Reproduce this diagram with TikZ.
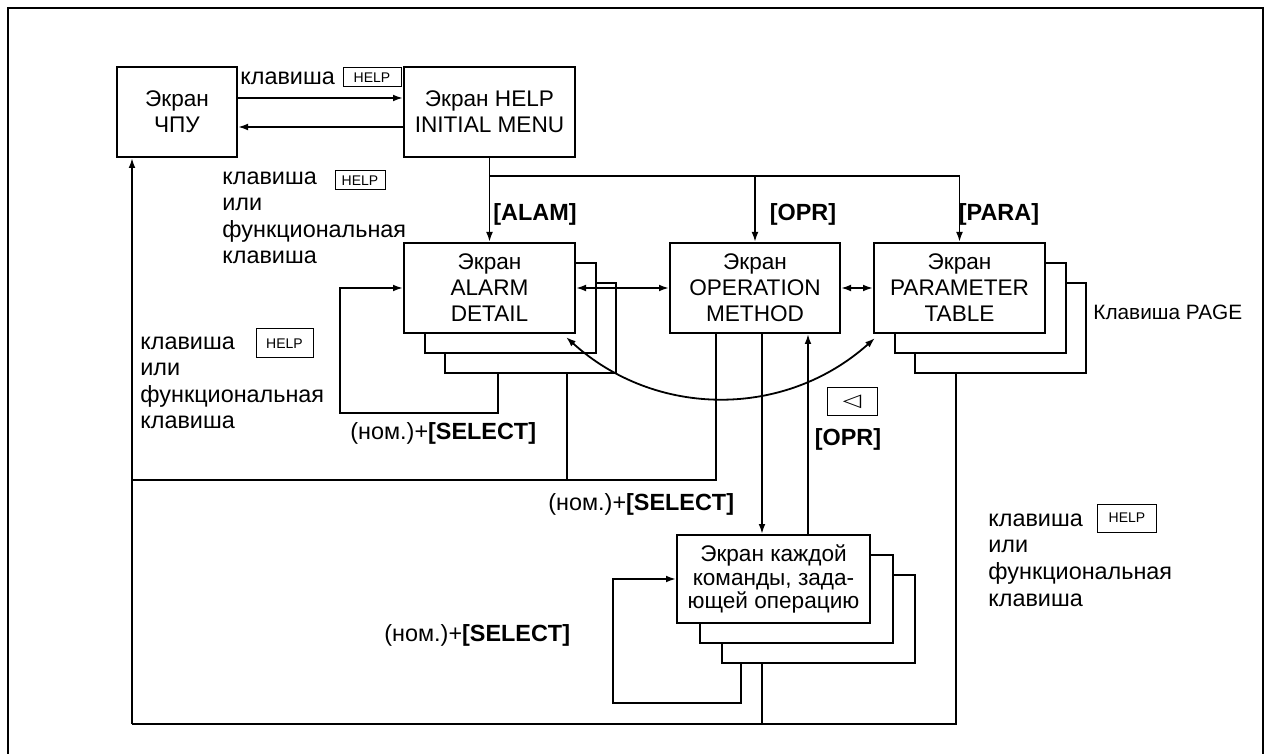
\documentclass[tikz,border=0pt]{standalone}
\usepackage{fontspec}
\setmainfont{Liberation Sans}
\newfontfamily\symfont{DejaVu Sans}
\usetikzlibrary{arrows.meta, positioning, calc}

\begin{document}
\begin{tikzpicture}[
  x=0.5pt, y=-0.5pt,
  scr/.style={draw, line width=1pt, fill=white, align=center, inner sep=0pt,
    minimum width=#1, minimum height=45pt, font=\fontsize{11.3}{13}\selectfont},
  scr/.default=85.5pt,
  hkey/.style={draw, line width=0.5pt, inner sep=0pt, minimum width=#1,
    font=\fontsize{7}{8}\selectfont},
  hkey/.default=29pt,
  lbl/.style={inner sep=0pt, align=left, font=\fontsize{11.7}{13.3}\selectfont},
  bld/.style={inner sep=0pt, font=\fontsize{11.7}{13}\selectfont\bfseries},
  wire/.style={line width=0.9pt},
  arr/.style={wire, -{Latex[length=5pt, width=3.4pt]}},
  arrs/.style={wire, {Latex[length=5pt, width=3.4pt]}-{Latex[length=5pt, width=3.4pt]}}
]
  \useasboundingbox (0,0) rectangle (1265,754);
  \draw[line width=1pt] (8,754) -- (8,8) -- (1263,8) -- (1263,754);

  % Screens
  \node[scr=60pt] (cnc) at (177,112) {Экран\\ЧПУ};
  \node[scr] (menu) at (489.5,112) {Экран HELP\\INITIAL MENU};
  \foreach \s/\t in {C/2, B/1} {
    \node[scr] (alarm\s) at ($(489.5,288)+\t*(20.5,20)$) {};
    \node[scr] (param\s) at ($(959.5,288)+\t*(20.5,20)$) {};
    \node[scr=96.5pt, minimum height=44pt] (kazh\s) at ($(773.5,579)+\t*(22.5,20)$) {};
  }
  \node[scr] (alarm) at (489.5,288) {Экран\\ALARM\\DETAIL};
  \node[scr=85pt] (oper) at (755,288) {Экран\\OPERATION\\METHOD};
  \node[scr] (param) at (959.5,288) {Экран\\PARAMETER\\TABLE};
  \node[scr=96.5pt, minimum height=44pt, font=\fontsize{11.3}{11.8}\selectfont]
    (kazh) at (773.5,579) {Экран каждой\\команды, зада-\\ющей операцию};

  % HELP menu <-> CNC
  \draw[arr] ([yshift=7pt]cnc.east) -- ([yshift=7pt]menu.west);
  \draw[arr] ([yshift=-7.5pt]menu.west) -- ([yshift=-7.5pt]cnc.east);
  \node[lbl, anchor=base west] (l1) at (240,85) {клавиша};
  \node[hkey, minimum height=9.5pt] (k1) at (372,77.5) {HELP};

  % Soft keys from the menu
  \draw[arr] (menu) -- (alarm);
  \draw[arr] (menu.south |- 0,176) -| (oper.north);
  \draw[arr] (oper.north |- 0,176) -| (param.north);
  \node[bld, anchor=base] (lalam) at (535,221) {[ALAM]};
  \node[bld, anchor=base] (lopr) at (803,221) {[OPR]};
  \node[bld, anchor=base] (lpara) at (999,221) {[PARA]};

  % base = last line
  \node[lbl, anchor=base west] (l2) at (222,264)
    {клавиша\\или\\функциональная\\клавиша};
  \node[hkey=25pt, minimum height=9.5pt] (k2) at (360,180.5) {HELP};

  % Between screens
  \draw[arrs] (alarm.east) -- (oper.west);
  \draw[arrs] (oper.east) -- (param.west);
  \draw[arrs] ([xshift=-5pt,yshift=-1.5pt]alarm.south east) to[bend right=42]
    ([xshift=1pt,yshift=-2pt]param.south west);
  \node[lbl, anchor=base west, font=\fontsize{10.4}{12}\selectfont] (lpage)
    at (1093,320) {Клавиша PAGE};

  % Alarm detail loop and return
  \draw[arr] (alarmC.south -| 498,0) |- (340,413) |- (alarm.west);
  \node[lbl, anchor=base west] (sel1) at (350,440) {(ном.)+\textbf{[SELECT]}};
  \draw[wire] (alarmC.south -| 567,0) |- (132,480);
  \draw[wire] (oper.south -| 716,0) |- (132,480);
  \node[lbl, anchor=base west] (l3) at (140,429)
    {клавиша\\или\\функциональная\\клавиша};
  \node[hkey=28.5pt, minimum height=14.5pt] (k3) at (284.5,343.5) {HELP};

  % Operation method <-> each command
  \draw[arr] (oper.south -| 762,0) -- (kazh.north -| 762,0);
  \draw[arr] (kazh.north -| 808,0) -- (oper.south -| 808,0);
  \node[lbl, anchor=base west] (sel2) at (548,510) {(ном.)+\textbf{[SELECT]}};
  \node[hkey=25pt, minimum height=14pt] (kback) at (852,402)
    {\symfont\fontsize{12}{12}\selectfont\scalebox{1}[0.75]{◁}};
  \node[bld, anchor=base] (lopr2) at (848,445) {[OPR]};

  \draw[arr] (kazhC.south -| 741,0) |- (613,703) |- (kazh.west);
  \node[lbl, anchor=base west] (sel3) at (384,641) {(ном.)+\textbf{[SELECT]}};

  % Back to the CNC screen
  \draw[wire] (paramC.south -| 956,0) |- (132,724);
  \draw[wire] (kazhC.south -| 762,0) -- (762,724);
  \draw[arr] (132,724) -- (cnc.south -| 132,0);
  \node[lbl, anchor=base west] (l4) at (988,606)
    {клавиша\\или\\функциональная\\клавиша};
  \node[hkey=29.5pt, minimum height=14pt] (k4) at (1127,518) {HELP};
\end{tikzpicture}
\end{document}
